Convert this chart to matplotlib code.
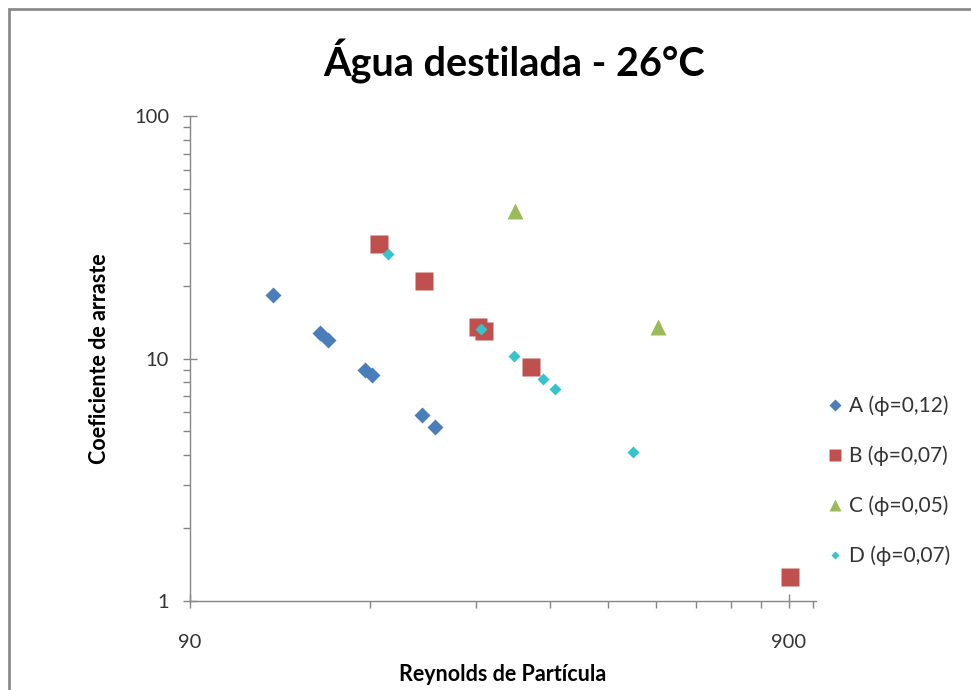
import matplotlib
matplotlib.use("Agg")
import matplotlib.pyplot as plt
import matplotlib.ticker as ticker
from matplotlib.patches import Rectangle

plt.rcParams['font.family'] = ['Lato', 'DejaVu Sans']

# série A (phi = 0,12)
re_a = [124.0, 148.5, 153.1, 176.6, 181.2, 219.6, 231.2]
cd_a = [18.2, 12.7, 11.9, 8.97, 8.55, 5.85, 5.23]
# série B (phi = 0,07)
re_b = [186.1, 221.3, 272.7, 279.2, 334.6, 903.5]
cd_b = [29.6, 20.9, 13.5, 13.0, 9.2, 1.256]
# série C (phi = 0,05)
re_c = [313.7, 544.9]
cd_c = [40.6, 13.45]
# série D (phi = 0,07)
re_d = [192.4, 275.3, 312.6, 350.0, 366.6, 493.8]
cd_d = [27.0, 13.2, 10.24, 8.21, 7.46, 4.13]

labels = ['A (\u03d5=0,12)', 'B (\u03d5=0,07)', 'C (\u03d5=0,05)', 'D (\u03d5=0,07)']

fig = plt.figure(figsize=(9.71, 6.90), dpi=100)
ax = fig.add_axes([190 / 971, 89 / 690, 626 / 971, 485 / 690])

ax.plot(re_a, cd_a, 'D', color='#4A7EBB', ms=8, mec='none', label=labels[0])
ax.plot(re_b, cd_b, 's', color='#C0504D', ms=12.5, mec='none', label=labels[1])
ax.plot(re_c, cd_c, '^', color='#9BBB59', ms=12, mec='none', label=labels[2])
ax.plot(re_d, cd_d, 'D', color='#33C4CC', ms=5.8, mec='none', label=labels[3])

ax.set_xscale('log')
ax.set_yscale('log')
ax.set_xlim(90, 1000)
ax.set_ylim(1, 100)

ax.xaxis.set_major_locator(ticker.FixedLocator([90, 900]))
ax.xaxis.set_minor_locator(ticker.FixedLocator([90 * k for k in range(2, 10)] + [990]))
ax.xaxis.set_major_formatter(ticker.FixedFormatter(['90', '900']))
ax.xaxis.set_minor_formatter(ticker.NullFormatter())
ax.yaxis.set_major_locator(ticker.FixedLocator([1, 10, 100]))
ax.yaxis.set_minor_locator(ticker.LogLocator(base=10, subs=range(2, 10)))
ax.yaxis.set_major_formatter(ticker.FixedFormatter(['1', '10', '100']))
ax.yaxis.set_minor_formatter(ticker.NullFormatter())

for s in ['top', 'right']:
    ax.spines[s].set_visible(False)
for s in ['left', 'bottom']:
    ax.spines[s].set_color('#868686')
    ax.spines[s].set_linewidth(1.0)

ax.tick_params(which='major', direction='inout', length=10, width=1, color='#868686',
               labelsize=14.5, labelcolor='#333333')
ax.tick_params(which='minor', direction='out', length=5, width=1, color='#868686')
ax.tick_params(axis='x', which='major', pad=19)
ax.tick_params(axis='y', which='major', pad=10)

ax.set_xlabel('Reynolds de Partícula', fontsize=15.5, fontweight='bold')
ax.set_ylabel('Coeficiente de arraste', fontsize=15.5, fontweight='bold')
ax.xaxis.set_label_coords(0.5, -63 / 485)
ax.yaxis.set_label_coords(-80 / 626, 0.5)

fig.text(514 / 971, 1 - 62 / 690, 'Água destilada - 26°C', fontsize=28.5, fontweight='bold',
         ha='center', va='center')

leg = fig.legend(loc='upper left', bbox_to_anchor=(808 / 971, 1 - 377 / 690),
                 frameon=False, fontsize=15, markerscale=0.72, handlelength=0.8,
                 handletextpad=0.25, labelspacing=1.41, numpoints=1)
for t in leg.get_texts():
    t.set_color('#333333')

# moldura do gráfico (cortada à direita e em baixo)
fig.patches.append(Rectangle((9 / 971, -0.1), 1.2, 1 - 9 / 690 + 0.1, transform=fig.transFigure,
                             fill=False, edgecolor='#8C8C8C', linewidth=2))

fig.savefig('out.png', dpi=100)
